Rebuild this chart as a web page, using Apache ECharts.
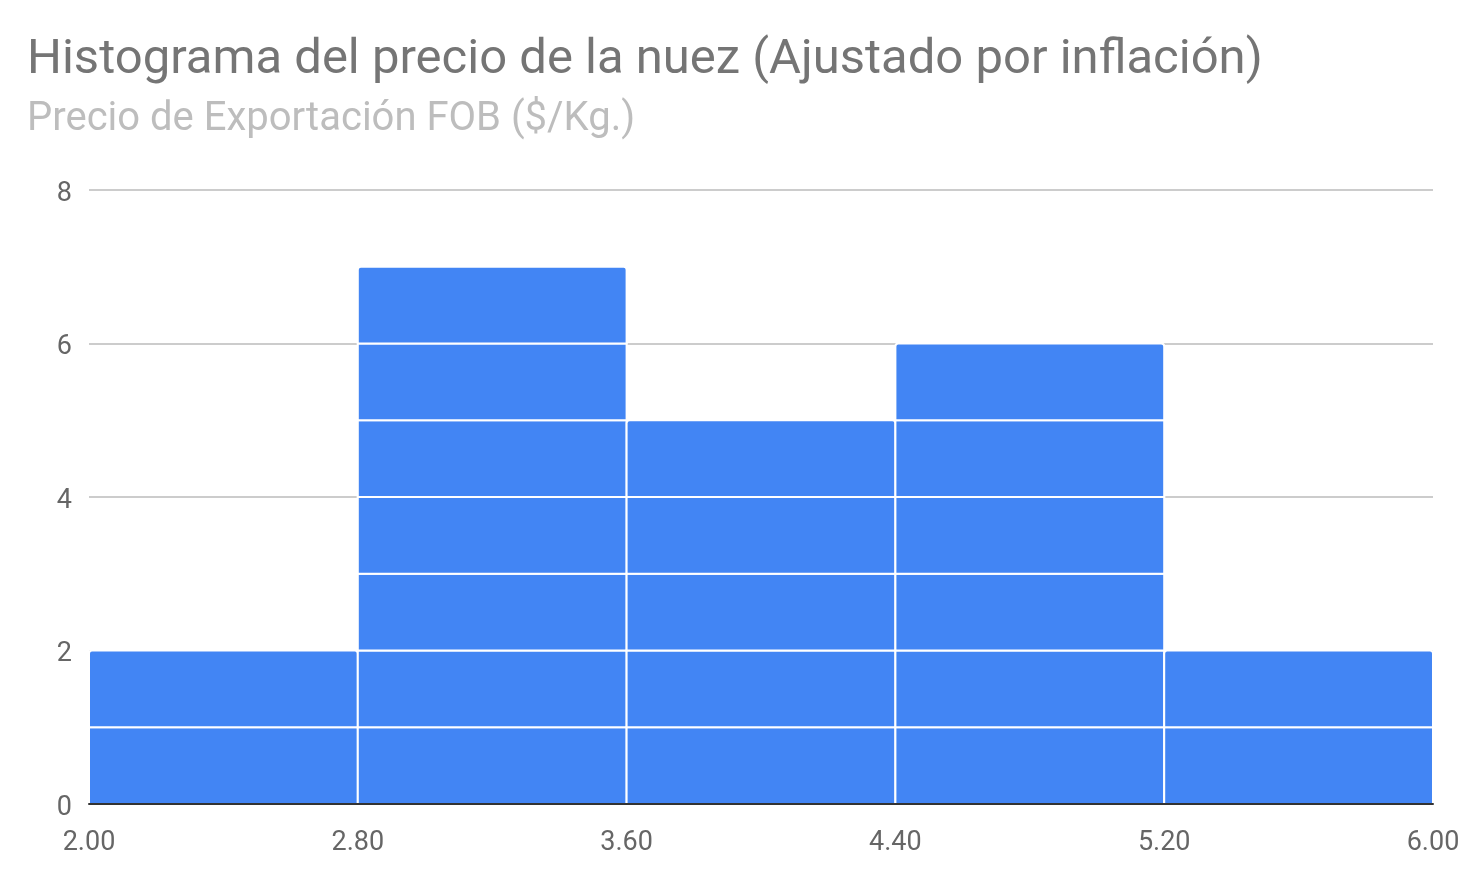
<!DOCTYPE html>
<html><head><meta charset="utf-8">
<script src="https://cdn.jsdelivr.net/npm/echarts@6/dist/echarts.min.js"></script>
<style>html,body{margin:0;padding:0;background:#fff}#c{width:1482px;height:874px}</style>
</head><body><div id="c"></div>
<script>
const titleText = 'Histograma del precio de la nuez (Ajustado por inflación)';
const subtitleText = 'Precio de Exportación FOB ($/Kg.)';
const binEdges = [2.00, 2.80, 3.60, 4.40, 5.20, 6.00];
const binCounts = [2, 7, 5, 6, 2];
const yTicks = [0, 2, 4, 6, 8];

// one unit block per observation, stacked within its bin
const blocks = [];
binCounts.forEach((c, i) => {
  for (let k = 0; k < c; k++) blocks.push([binEdges[i], binEdges[i + 1], k, k + 1, k === c - 1 ? 1 : 0]);
});

const chart = echarts.init(document.getElementById('c'), null, {renderer: 'canvas'});
chart.setOption({
  animation: false,
  backgroundColor: '#fff',
  title: {
    text: titleText, subtext: subtitleText, left: 22, top: 31, itemGap: 15,
    textStyle: {fontFamily: 'Roboto', fontSize: 49, fontWeight: 'normal', color: '#757575'},
    subtextStyle: {fontFamily: 'Roboto', fontSize: 40, color: '#bdbdbd'}
  },
  grid: {left: 89, right: 49, top: 190, bottom: 70, containLabel: false},
  xAxis: {
    type: 'value', min: binEdges[0], max: binEdges[binEdges.length - 1],
    axisLine: {show: true, onZero: false, lineStyle: {color: '#333', width: 2}},
    axisTick: {show: false},
    splitLine: {show: false},
    z: 5,
    axisLabel: {
      customValues: binEdges, showMinLabel: true, showMaxLabel: true,
      formatter: v => v.toFixed(2), margin: 26,
      fontFamily: 'Roboto', fontSize: 27, color: '#666'
    }
  },
  yAxis: {
    type: 'value', min: yTicks[0], max: yTicks[yTicks.length - 1], interval: 2,
    axisLine: {show: false}, axisTick: {show: false},
    splitLine: {lineStyle: {color: '#cccccc', width: 2}},
    axisLabel: {margin: 17, fontFamily: 'Roboto', fontSize: 27, color: '#666', verticalAlign: 'top', lineHeight: 8}
  },
  series: [{
    type: 'custom',
    data: blocks,
    encode: {x: [0, 1], y: [2, 3]},
    renderItem: function (params, api) {
      const p0 = api.coord([api.value(0), api.value(2)]);
      const p1 = api.coord([api.value(1), api.value(3)]);
      const isTop = api.value(4) === 1;
      return {
        type: 'rect',
        shape: {x: p0[0], y: p1[1], width: p1[0] - p0[0], height: p0[1] - p1[1], r: isTop ? [3, 3, 0, 0] : 0},
        style: {fill: '#4285f4', stroke: '#ffffff', lineWidth: 2}
      };
    }
  }]
});
</script></body></html>
